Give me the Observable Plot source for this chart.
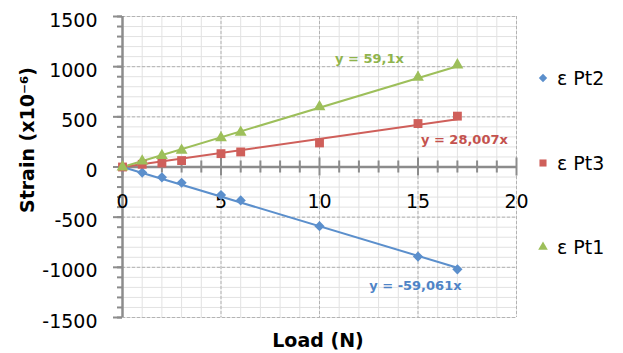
<!DOCTYPE html>
<html><head><meta charset="utf-8">
<script src="https://cdn.jsdelivr.net/npm/d3@7"></script>
<script src="https://cdn.jsdelivr.net/npm/@observablehq/plot@0.6"></script>
<style>body{margin:0;background:#fff} #chart{width:623px;height:353px}</style>
</head><body><div id="chart"></div>
<script>
const loads = [0, 1, 2, 3, 5, 6, 10, 15, 17];
const pt2 = [0, -56, -103, -157, -280, -333, -590, -893, -1020];
const pt3 = [0, 27, 40, 64, 133, 150, 240, 433, 507];
const pt1 = [0, 60, 113, 167, 290, 345, 600, 893, 1017];
const seriesNames = ["ε Pt2", "ε Pt3", "ε Pt1"];
const seriesColors = ["#5b8fcc", "#cf5f5a", "#9dbf5a"];
const labelColors = ["#4f84c6", "#c4524e", "#8fb44c"];
const seriesSymbols = ["diamond2", "square", "triangle"];
const trendSlopes = [-59.061, 28.007, 59.1];
const trendLabels = ["y = -59,061x", "y = 28,007x", "y = 59,1x"];
const xTicks = [0, 5, 10, 15, 20];
const yTicks = [-1500, -1000, -500, 0, 500, 1000, 1500];

const values = [pt2, pt3, pt1];
const xMax = d3.max(loads);
const axisColor = "#8c8c8c";
const labelOffsets = [[-42, 18], [7, 21], [-88, -7]];
const dotR = [4.6, 5, 4.4];

const marks = [
  Plot.ruleX(d3.range(0, 21, 1), {stroke: "#e2e2e2", strokeWidth: 1}),
  Plot.ruleY(d3.range(-1500, 1501, 100), {stroke: "#e2e2e2", strokeWidth: 1}),
  Plot.ruleX(xTicks.filter(d => d !== 0), {stroke: "#b3b3b3", strokeDasharray: "3,2", strokeWidth: 1}),
  Plot.ruleY(yTicks.filter(d => d !== 0), {stroke: "#b3b3b3", strokeDasharray: "3,2", strokeWidth: 1}),
  Plot.ruleX([0], {stroke: axisColor, strokeWidth: 2.5}),
  Plot.ruleY([0], {x1: 0, x2: 20, stroke: axisColor, strokeWidth: 2.5}),
  Plot.ruleX(d3.range(0, 21, 1).filter(d => d % 5 !== 0), {y1: -60, y2: 60, stroke: axisColor, strokeWidth: 2}),
  Plot.ruleX(xTicks, {y1: -90, y2: 90, stroke: axisColor, strokeWidth: 2}),
  Plot.axisY({ticks: d3.range(-1500, 1501, 100), tickSize: 5, text: null, label: null, stroke: axisColor, strokeWidth: 2}),
  Plot.axisY({ticks: yTicks, tickSize: 9, text: null, label: null, stroke: axisColor, strokeWidth: 2}),
  Plot.axisY({ticks: yTicks, tickSize: 0, tickPadding: 25, dy: 4, label: null, fontSize: 19, fill: "#000", tickFormat: d => String(d)}),
  Plot.text(xTicks, {x: d => d, y: 0, dy: 35, text: d => String(d), fontSize: 19, fill: "#000"})
];

values.forEach((vals, s) => {
  marks.push(Plot.line([0, xMax].map(x => ({x, y: trendSlopes[s] * x})), {x: "x", y: "y", stroke: seriesColors[s], strokeWidth: 2}));
});
values.forEach((vals, s) => {
  marks.push(Plot.dot(loads.map((x, i) => ({x, y: vals[i]})), {x: "x", y: "y", symbol: seriesSymbols[s], r: dotR[s], fill: seriesColors[s], stroke: "none"}));
});
values.forEach((vals, s) => {
  marks.push(Plot.text([{x: xMax, y: trendSlopes[s] * xMax}], {x: "x", y: "y", dx: labelOffsets[s][0], dy: labelOffsets[s][1], text: () => trendLabels[s], fill: labelColors[s], fontWeight: "bold", fontSize: 13}));
});

const chart = Plot.plot({
  width: 623, height: 353,
  marginLeft: 122, marginRight: 107, marginTop: 16, marginBottom: 36,
  x: {domain: [0, 20], axis: null},
  y: {domain: [-1500, 1500]},
  style: {fontFamily: "'DejaVu Sans', sans-serif", fontSize: "19px", color: "#000", background: "#fff"},
  marks
});

const svg = d3.select(chart);
svg.append("text").attr("x", 318).attr("y", 347).attr("text-anchor", "middle")
  .attr("font-weight", "bold").attr("font-size", 19).attr("fill", "#000").text("Load (N)");
svg.append("text").attr("transform", "translate(34,140) rotate(-90)").attr("text-anchor", "middle")
  .attr("font-weight", "bold").attr("font-size", 19).attr("fill", "#000").text("Strain (x10⁻⁶)");

const legendY = [78, 163, 247];
const legendSym = [d3.symbolDiamond2, d3.symbolSquare, d3.symbolTriangle];
const legendSize = [45, 50, 40];
seriesNames.forEach((name, s) => {
  const g = svg.append("g").attr("transform", `translate(543,${legendY[s]})`);
  g.append("path").attr("d", d3.symbol(legendSym[s], legendSize[s])()).attr("fill", seriesColors[s]);
  g.append("text").attr("x", 14).attr("dy", "0.35em").attr("text-anchor", "start")
    .attr("font-size", 19).attr("fill", "#000").text(name);
});

document.getElementById("chart").appendChild(chart);
</script>
</body></html>
